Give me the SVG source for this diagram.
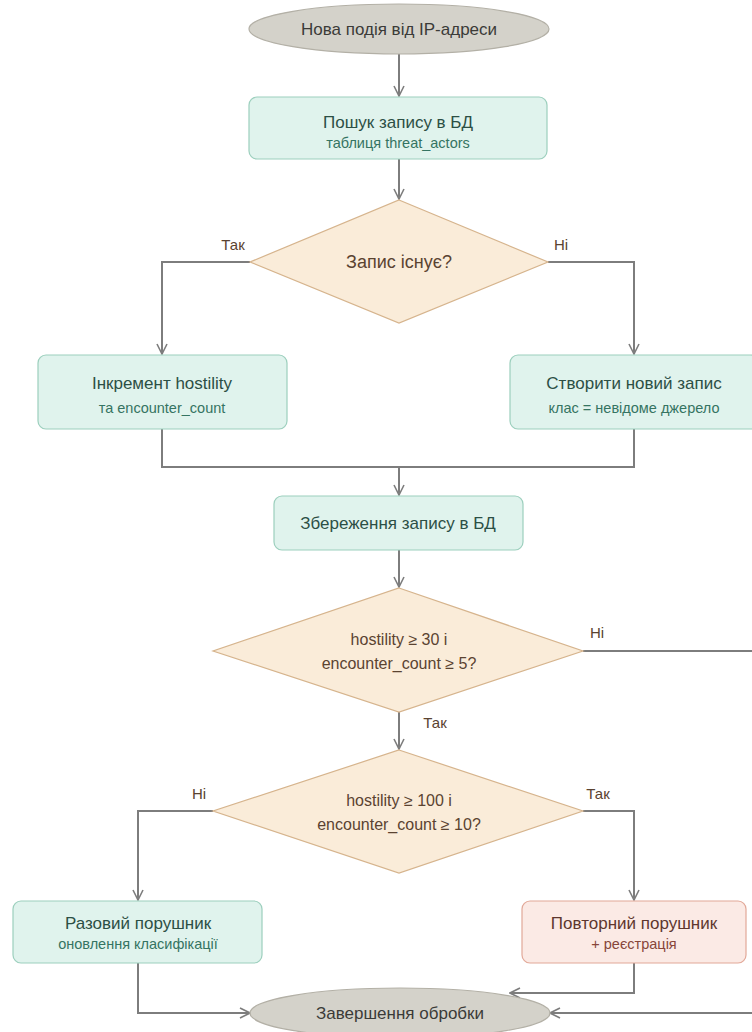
<svg xmlns="http://www.w3.org/2000/svg" width="752" height="1032" viewBox="0 0 752 1032">
  <defs>
    <marker id="arrow" viewBox="0 0 12 12" refX="11" refY="6" markerWidth="12" markerHeight="12" markerUnits="userSpaceOnUse" orient="auto">
      <polyline points="1,1 11,6 1,11" fill="none" stroke="#7d7d7d" stroke-width="1.6"/>
    </marker>
    <style>
      text { font-family: "Liberation Sans", Arial, sans-serif; text-anchor: middle; }
      .edge { fill: none; stroke: #7d7d7d; stroke-width: 2; }
      .term { fill: #d4d2ca; stroke: #b3b0a6; stroke-width: 1.2; }
      .term-t { font-size: 17px; fill: #3b3b38; }
      .proc { fill: #e0f3ed; stroke: #9ccfbd; stroke-width: 1.2; }
      .proc-t { font-size: 17px; fill: #2c4f45; }
      .proc-s { font-size: 14.5px; fill: #357462; }
      .alert { fill: #fbeae5; stroke: #e2a898; stroke-width: 1.2; }
      .alert-t { font-size: 17px; fill: #5e372e; }
      .alert-s { font-size: 14.5px; fill: #87463a; }
      .dec { fill: #faecd9; stroke: #d6b48d; stroke-width: 1.2; }
      .dec-t { font-size: 16px; fill: #5a4331; }
      .lbl { font-size: 15px; fill: #5a4331; }
    </style>
  </defs>

  <!-- connectors -->
  <g id="connectors">
    <line class="edge" x1="399" y1="54" x2="399" y2="96" marker-end="url(#arrow)"/>
    <line class="edge" x1="399" y1="159" x2="399" y2="199" marker-end="url(#arrow)"/>
    <polyline class="edge" points="250,262 162,262 162,354" marker-end="url(#arrow)"/>
    <polyline class="edge" points="548,262 634,262 634,354" marker-end="url(#arrow)"/>
    <polyline class="edge" points="162,429 162,467 634,467 634,429"/>
    <line class="edge" x1="399" y1="467" x2="399" y2="495" marker-end="url(#arrow)"/>
    <line class="edge" x1="399" y1="550" x2="399" y2="587" marker-end="url(#arrow)"/>
    <line class="edge" x1="583" y1="651" x2="760" y2="651"/>
    <line class="edge" x1="399" y1="712" x2="399" y2="749" marker-end="url(#arrow)"/>
    <polyline class="edge" points="213,811 138,811 138,900" marker-end="url(#arrow)"/>
    <polyline class="edge" points="583,811 634,811 634,900" marker-end="url(#arrow)"/>
    <polyline class="edge" points="138,963 138,1013 250,1013" marker-end="url(#arrow)"/>
    <polyline class="edge" points="634,963 634,993 510,993" marker-end="url(#arrow)"/>
    <line class="edge" x1="760" y1="1013" x2="550" y2="1013" marker-end="url(#arrow)"/>

    <text class="lbl" x="233" y="250">Так</text>
    <text class="lbl" x="561" y="250">Ні</text>
    <text class="lbl" x="597" y="638">Ні</text>
    <text class="lbl" x="435" y="728">Так</text>
    <text class="lbl" x="199" y="799">Ні</text>
    <text class="lbl" x="598" y="799">Так</text>
  </g>

  <g id="start">
    <ellipse class="term" cx="399" cy="29" rx="150" ry="25"/>
    <text class="term-t" x="399" y="35">Нова подія від IP-адреси</text>
  </g>

  <g id="lookup">
    <rect class="proc" x="249" y="97" width="298" height="62" rx="8"/>
    <text class="proc-t" x="398" y="128">Пошук запису в БД</text>
    <text class="proc-s" x="398" y="148">таблиця threat_actors</text>
  </g>

  <g id="exists">
    <polygon class="dec" points="399,200 548,262 399,323 250,262"/>
    <text class="dec-t" x="399" y="268" style="font-size:18px">Запис існує?</text>
  </g>

  <g id="increment">
    <rect class="proc" x="38" y="355" width="249" height="74" rx="8"/>
    <text class="proc-t" x="162" y="389">Інкремент hostility</text>
    <text class="proc-s" x="162" y="413">та encounter_count</text>
  </g>

  <g id="create">
    <rect class="proc" x="510" y="355" width="249" height="74" rx="8"/>
    <text class="proc-t" x="634" y="389">Створити новий запис</text>
    <text class="proc-s" x="634" y="413">клас = невідоме джерело</text>
  </g>

  <g id="save">
    <rect class="proc" x="274" y="496" width="249" height="54" rx="8"/>
    <text class="proc-t" x="398" y="529">Збереження запису в БД</text>
  </g>

  <g id="threshold-low">
    <polygon class="dec" points="399,588 583,651 399,712 213,651"/>
    <text class="dec-t" x="399" y="645">hostility ≥ 30 і</text>
    <text class="dec-t" x="399" y="669">encounter_count ≥ 5?</text>
  </g>

  <g id="threshold-high">
    <polygon class="dec" points="399,750 583,811 399,873 213,811"/>
    <text class="dec-t" x="399" y="806">hostility ≥ 100 і</text>
    <text class="dec-t" x="399" y="830">encounter_count ≥ 10?</text>
  </g>

  <g id="one-time">
    <rect class="proc" x="13" y="901" width="249" height="62" rx="8"/>
    <text class="proc-t" x="138" y="929">Разовий порушник</text>
    <text class="proc-s" x="138" y="949">оновлення класифікації</text>
  </g>

  <g id="repeat">
    <rect class="alert" x="522" y="901" width="224" height="62" rx="8"/>
    <text class="alert-t" x="634" y="929">Повторний порушник</text>
    <text class="alert-s" x="634" y="949">+ реєстрація</text>
  </g>

  <g id="end">
    <ellipse class="term" cx="400" cy="1013" rx="150" ry="25"/>
    <text class="term-t" x="400" y="1019">Завершення обробки</text>
  </g>
</svg>
